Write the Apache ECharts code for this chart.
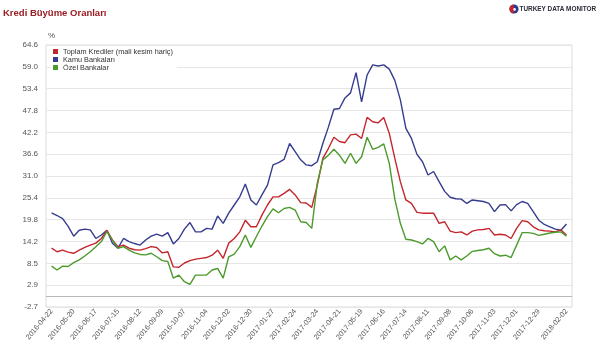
<!DOCTYPE html>
<html>
<head>
<meta charset="utf-8">
<script src="https://cdn.jsdelivr.net/npm/echarts@6/dist/echarts.min.js"></script>
<style>
html,body{margin:0;padding:0;background:#fff;}
#chart{width:600px;height:349px;}
</style>
</head>
<body>
<div id="chart"></div>
<script>
// Weekly dates (x categories)
const dates = [
'2016-04-22','2016-04-29','2016-05-06','2016-05-13','2016-05-20','2016-05-27','2016-06-03','2016-06-10','2016-06-17','2016-06-24',
'2016-07-01','2016-07-08','2016-07-15','2016-07-22','2016-07-29','2016-08-05','2016-08-12','2016-08-19','2016-08-26','2016-09-02',
'2016-09-09','2016-09-16','2016-09-23','2016-09-30','2016-10-07','2016-10-14','2016-10-21','2016-10-28','2016-11-04','2016-11-11',
'2016-11-18','2016-11-25','2016-12-02','2016-12-09','2016-12-16','2016-12-23','2016-12-30','2017-01-06','2017-01-13','2017-01-20',
'2017-01-27','2017-02-03','2017-02-10','2017-02-17','2017-02-24','2017-03-03','2017-03-10','2017-03-17','2017-03-24','2017-03-31',
'2017-04-07','2017-04-14','2017-04-21','2017-04-28','2017-05-05','2017-05-12','2017-05-19','2017-05-26','2017-06-02','2017-06-09',
'2017-06-16','2017-06-23','2017-06-30','2017-07-07','2017-07-14','2017-07-21','2017-07-28','2017-08-04','2017-08-11','2017-08-18',
'2017-08-25','2017-09-01','2017-09-08','2017-09-15','2017-09-22','2017-09-29','2017-10-06','2017-10-13','2017-10-20','2017-10-27',
'2017-11-03','2017-11-10','2017-11-17','2017-11-24','2017-12-01','2017-12-08','2017-12-15','2017-12-22','2017-12-29','2018-01-05',
'2018-01-12','2018-01-19','2018-01-26','2018-02-02'
];

// Toplam Krediler (mali kesim hariç)
const toplamKrediler = [
12.4,11.5,11.9,11.4,11.1,11.9,12.6,13.2,13.7,14.9,
17.0,14.5,12.8,13.2,12.4,12.0,11.9,12.3,12.8,12.6,
11.2,11.5,7.6,7.5,8.6,9.2,9.6,9.8,10.0,10.6,
11.9,9.8,13.7,14.9,16.6,19.6,17.9,17.9,20.9,23.5,
25.6,25.6,26.5,27.5,26.1,24.1,24.0,22.9,28.6,35.5,
38.0,40.9,39.8,39.5,41.5,41.7,40.6,46.0,44.9,44.6,
46.0,41.9,35.5,29.5,24.8,23.9,21.6,21.4,21.4,21.4,
18.8,19.2,16.8,16.4,16.6,15.8,16.8,17.1,17.2,17.5,
15.8,16.0,15.8,14.9,17.5,19.5,19.2,17.9,17.1,16.9,
16.8,16.6,17.1,15.8
];

// Kamu Bankaları
const kamuBankalari = [
21.5,20.8,20.0,18.0,15.5,17.0,17.3,17.1,14.9,15.8,
17.0,13.7,12.4,14.9,14.1,13.6,13.2,14.5,15.5,16.0,
15.5,16.4,13.5,14.9,17.3,19.0,16.6,16.6,17.5,17.3,
20.7,18.8,21.4,23.5,25.6,28.9,24.8,23.5,26.1,28.6,
33.8,34.4,35.2,39.3,37.2,35.1,33.8,33.6,34.6,39.3,
43.5,48.1,48.3,51.0,52.3,57.5,50.0,56.9,59.5,59.2,
59.5,58.4,55.5,50.5,43.2,40.6,36.5,34.6,31.2,32.1,
29.5,27.0,25.5,25.1,25.0,23.9,24.8,24.6,24.4,23.9,
21.8,23.5,23.6,22.0,23.6,24.4,23.9,21.8,19.6,18.5,
17.9,17.3,17.0,18.6
];

// Özel Bankalar
const ozelBankalar = [
7.8,6.8,7.8,7.7,8.7,9.4,10.4,11.5,12.8,14.1,
16.7,14.5,12.4,12.8,11.9,11.2,10.8,10.7,11.1,10.2,
9.2,9.0,4.7,5.5,3.8,3.1,5.5,5.5,5.5,6.8,
7.2,4.7,10.2,10.9,12.8,15.8,12.6,15.4,18.1,20.5,
22.5,21.5,22.6,22.9,22.2,19.2,19.0,17.5,29.1,35.1,
36.3,37.8,36.3,34.2,36.8,34.2,35.9,40.9,37.8,38.3,
39.2,34.2,25.0,18.8,14.7,14.5,14.1,13.5,14.9,14.1,
11.5,13.0,9.4,10.4,9.4,10.4,11.6,11.8,12.0,12.4,
11.0,10.4,10.6,10.0,13.2,16.4,16.4,16.2,15.7,16.0,
16.3,16.5,16.6,15.5
];

const seriesNames = ['Toplam Krediler (mali kesim hariç)', 'Kamu Bankaları', 'Özel Bankalar'];
const yTickLabels = ['-2.7','2.9','8.5','14.2','19.8','25.4','31.0','36.6','42.2','47.8','53.4','59.0','64.6'];
const yMin = -2.7;
const yMax = 64.6;

// every 4th week labelled, plus the final week
const lastIdx = dates.length - 1;
const xLabelIndices = dates.map((d, i) => i).filter(i => (i % 4 === 0 && lastIdx - i >= 4) || i === lastIdx);
const toPairs = arr => arr.map((v, i) => [i, v]);

const FONT = 'Liberation Sans, Arial, sans-serif';
const chart = echarts.init(document.getElementById('chart'), null, {renderer: 'canvas'});

chart.setOption({
  animation: false,
  backgroundColor: '#fff',
  color: ['#c4262d', '#363c8f', '#4c9a2c'],
  title: {
    text: 'Kredi Büyüme Oranları',
    left: 3, top: 8, padding: 0,
    textStyle: {fontFamily: FONT, fontSize: 9.5, fontWeight: 'bold', color: '#9b1c22'}
  },
  graphic: [
    {type: 'circle', shape: {cx: 514, cy: 9, r: 4.6}, style: {fill: '#2d3a8c'}},
    {type: 'sector', shape: {cx: 514, cy: 9, r: 4.6, startAngle: Math.PI * 0.55, endAngle: Math.PI * 1.45}, style: {fill: '#c9232b'}},
    {type: 'circle', shape: {cx: 514.6, cy: 9.4, r: 1.3}, style: {fill: '#ffffff'}},
    {type: 'text', x: 519.5, y: 9, style: {text: 'TURKEY DATA MONITOR', fontFamily: FONT, fontSize: 6.4, fontWeight: 'bold', fill: '#2b2b38', verticalAlign: 'middle', align: 'left'}}
  ],
  legend: {
    left: 51, top: 47, orient: 'vertical',
    icon: 'rect', itemWidth: 5, itemHeight: 5, itemGap: 1,
    padding: [1, 4, 1, 2],
    backgroundColor: '#ffffff',
    textStyle: {fontFamily: FONT, fontSize: 7.3, color: '#333'},
    data: seriesNames
  },
  grid: {
    left: 46, right: 28, top: 45, bottom: 42,
    show: true, borderColor: '#dcdcdc', borderWidth: 1
  },
  xAxis: {
    type: 'value',
    min: -1, max: dates.length,
    axisLine: {show: false},
    axisTick: {show: false},
    splitLine: {show: false},
    axisLabel: {
      customValues: xLabelIndices,
      formatter: v => dates[v] || '',
      rotate: 50, margin: 3,
      fontFamily: FONT, fontSize: 7.3, color: '#555'
    }
  },
  yAxis: [
    {
      type: 'value', min: yMin, max: yMax, position: 'right',
      show: false, splitLine: {show: false}
    },
    {
      type: 'value', min: 0, max: yTickLabels.length - 1, interval: 1, position: 'left',
      name: '%', nameLocation: 'end', nameGap: 5,
      nameTextStyle: {fontFamily: FONT, fontSize: 8, color: '#555', align: 'left', padding: [0, 0, 0, 2]},
      axisLine: {show: false}, axisTick: {show: false},
      axisLabel: {formatter: v => yTickLabels[v], fontFamily: FONT, fontSize: 8, color: '#555', margin: 8},
      splitLine: {lineStyle: {color: '#e6e6e6', width: 1}}
    }
  ],
  series: [
    {
      name: seriesNames[0], type: 'line', yAxisIndex: 0, data: toPairs(toplamKrediler),
      symbol: 'none', lineStyle: {width: 1.4}, z: 3,
      markLine: {
        silent: true, symbol: 'none', label: {show: false},
        lineStyle: {color: '#b9b9b9', width: 1, type: 'solid'},
        data: [{yAxis: 0}]
      }
    },
    {name: seriesNames[1], type: 'line', yAxisIndex: 0, data: toPairs(kamuBankalari), symbol: 'none', lineStyle: {width: 1.4}, z: 2},
    {name: seriesNames[2], type: 'line', yAxisIndex: 0, data: toPairs(ozelBankalar), symbol: 'none', lineStyle: {width: 1.4}, z: 4}
  ]
});
</script>
</body>
</html>
